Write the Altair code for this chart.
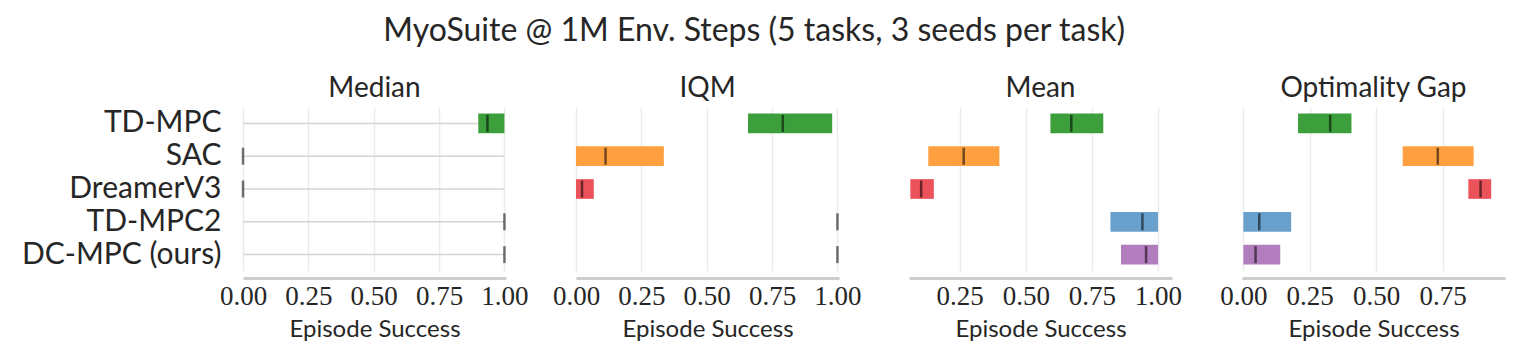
import altair as alt
import pandas as pd

algos = ["TD-MPC", "SAC", "DreamerV3", "TD-MPC2", "DC-MPC (ours)"]
colors = ["#3c9f3c", "#fea040", "#ec525a", "#6aa0cc", "#b27dbd"]

median_lo = [0.900, 0.0, 0.0, 1.0, 1.0]
median_hi = [1.000, 0.0, 0.0, 1.0, 1.0]
median_pt = [0.935, 0.0, 0.0, 1.0, 1.0]

iqm_lo = [0.658, 0.0, 0.0, 1.0, 1.0]
iqm_hi = [0.980, 0.336, 0.068, 1.0, 1.0]
iqm_pt = [0.791, 0.113, 0.023, 1.0, 1.0]

mean_lo = [0.593, 0.131, 0.063, 0.820, 0.860]
mean_hi = [0.793, 0.400, 0.152, 1.000, 1.000]
mean_pt = [0.672, 0.265, 0.104, 0.941, 0.955]

gap_lo = [0.206, 0.600, 0.847, 0.000, 0.000]
gap_hi = [0.407, 0.867, 0.933, 0.180, 0.139]
gap_pt = [0.327, 0.732, 0.893, 0.060, 0.046]

metrics = ["Median", "IQM", "Mean", "Optimality Gap"]
domains = [[0, 1.006], [0, 1.006], [0.058, 1.053], [-0.005, 0.985]]
tick_vals = [[0, 0.25, 0.5, 0.75, 1.0], [0, 0.25, 0.5, 0.75, 1.0],
             [0.25, 0.5, 0.75, 1.0], [0, 0.25, 0.5, 0.75]]
series = [(median_lo, median_hi, median_pt), (iqm_lo, iqm_hi, iqm_pt),
          (mean_lo, mean_hi, mean_pt), (gap_lo, gap_hi, gap_pt)]

TEXT = "#262626"
SANS = "Lato"
SERIF = "Liberation Serif"

panels = []
for i, (m, dom, tv, (lo, hi, pt)) in enumerate(zip(metrics, domains, tick_vals, series)):
    df = pd.DataFrame({"algo": algos, "lo": lo, "hi": hi, "pt": pt})
    xscale = alt.Scale(domain=dom, nice=False, zero=False)
    xaxis = alt.Axis(values=tv, format=".2f", title="Episode Success", grid=True,
                     gridColor="#ebebeb", gridWidth=1.5, domainColor="#cccccc",
                     domainWidth=3, offset=7, ticks=False, labelFont=SERIF,
                     labelFontSize=27, labelColor=TEXT, labelPadding=5,
                     labelOverlap=False, labelFlush=False,
                     titleFont=SANS, titleFontSize=24, titleFontWeight="normal",
                     titleColor=TEXT, titlePadding=8)
    if i == 0:
        yaxis = alt.Axis(title=None, ticks=False, domain=False, grid=False,
                         labelFont=SANS, labelFontSize=30, labelColor=TEXT,
                         labelPadding=22, labelLimit=500)
    else:
        yaxis = None
    yscale = alt.Scale(domain=algos, paddingInner=0.4, paddingOuter=0.2)
    base = alt.Chart(df)
    bars = base.mark_bar(opacity=1).encode(
        x=alt.X("lo:Q", scale=xscale, axis=xaxis),
        x2="hi:Q",
        y=alt.Y("algo:N", sort=algos, scale=yscale, axis=yaxis),
        color=alt.Color("algo:N", scale=alt.Scale(domain=algos, range=colors), legend=None),
    )
    ticks = base.mark_tick(color="black", opacity=0.55, thickness=2.5, size=17).encode(
        x=alt.X("pt:Q", scale=xscale),
        y=alt.Y("algo:N", sort=algos, scale=yscale),
    )
    layers = []
    if i == 0:
        rdf = pd.DataFrame({"algo": algos, "a": [0.0] * 5, "b": [1.0] * 5})
        rules = alt.Chart(rdf).mark_rule(color="#d4d4d4", strokeWidth=1.5).encode(
            x=alt.X("a:Q", scale=xscale),
            x2="b:Q",
            y=alt.Y("algo:N", sort=algos, scale=yscale),
        )
        layers.append(rules)
    layers += [bars, ticks]
    panel = alt.layer(*layers).properties(
        width=263, height=164,
        title=alt.TitleParams(m, font=SANS, fontSize=28, fontWeight="normal",
                              color=TEXT, offset=4),
    )
    panels.append(panel)

chart = alt.hconcat(*panels, spacing=70, bounds="flush").properties(
    title=alt.TitleParams("MyoSuite @ 1M Env. Steps (5 tasks, 3 seeds per task)",
                          font=SANS, fontSize=32, fontWeight="normal", color=TEXT,
                          anchor="middle", offset=27, dx=-9),
    padding={"left": 13, "top": 7, "right": 5, "bottom": 5},
    background="white",
).configure_view(strokeOpacity=0, strokeWidth=0)

chart.save("out.html", embed_options={"renderer": "svg", "actions": False})
